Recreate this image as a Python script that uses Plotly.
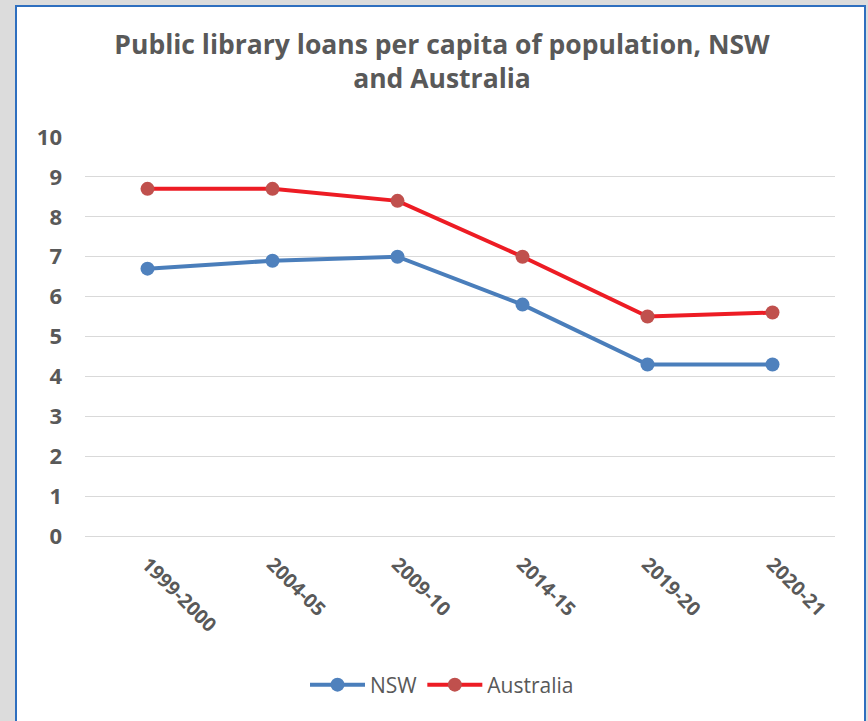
import plotly.graph_objects as go

categories = ["1999-2000", "2004-05", "2009-10", "2014-15", "2019-20", "2020-21"]
nsw = [6.7, 6.9, 7.0, 5.8, 4.3, 4.3]
australia = [8.7, 8.7, 8.4, 7.0, 5.5, 5.6]

FONT = "Open Sans"
GREY = "#595959"

fig = go.Figure()
fig.add_trace(go.Scatter(
    x=categories, y=nsw, name="NSW", mode="lines+markers",
    line=dict(color="#4a7ebb", width=4),
    marker=dict(color="#4f81bd", size=14),
))
fig.add_trace(go.Scatter(
    x=categories, y=australia, name="Australia", mode="lines+markers",
    line=dict(color="#ed1c24", width=4),
    marker=dict(color="#c0504d", size=14),
))

L, R, T, B = 85, 33, 137, 185
W, H = 868, 721
pw, ph = W - L - R, H - T - B

def px(x):
    return (x - L) / pw

def py(y):
    return (H - B - y) / ph

fig.add_shape(type="rect", xref="paper", yref="paper",
              x0=px(16), x1=px(865), y0=py(730), y1=py(6),
              fillcolor="white", line=dict(color="#2e6fbf", width=2), layer="below")

fig.update_layout(
    width=W, height=H,
    margin=dict(l=L, r=R, t=T, b=B),
    paper_bgcolor="#dcdcdc",
    plot_bgcolor="white",
    title=dict(
        text="<b>Public library loans per capita of population, NSW<br>and Australia</b>",
        x=442 / W, xanchor="center", y=1 - 54 / H, yanchor="middle",
        font=dict(family=FONT, size=26.5, color=GREY),
    ),
    xaxis=dict(
        type="category", range=[-0.5, 5.5], tickangle=45, showgrid=False, showline=False,
        ticks="", tickfont=dict(family=FONT, size=19.5, color=GREY, weight="bold"),
        ticklabelstandoff=12,
    ),
    yaxis=dict(
        range=[0, 10], dtick=1, showgrid=True, gridcolor="#d9d9d9", gridwidth=1,
        zeroline=True, zerolinecolor="#d9d9d9", zerolinewidth=1,
        tickfont=dict(family=FONT, size=22, color=GREY, weight="bold"),
        ticklabelstandoff=22,
    ),
    legend=dict(
        orientation="h", x=px(442), xanchor="center", y=py(685), yanchor="middle",
        bgcolor="rgba(0,0,0,0)",
        font=dict(family=FONT, size=21, color=GREY), itemwidth=55,
    ),
    showlegend=True,
)

fig.write_html("out.html")
